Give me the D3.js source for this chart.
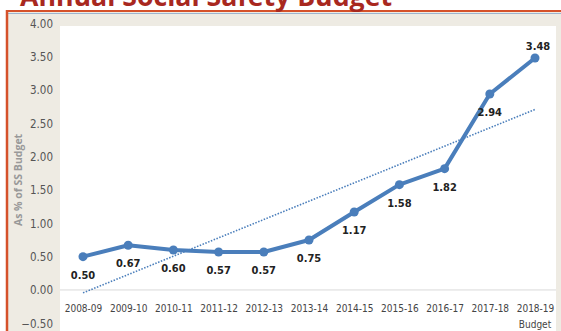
<!DOCTYPE html>
<html>
<head>
<meta charset="utf-8">
<script src="https://cdn.jsdelivr.net/npm/d3@7"></script>
<style>
  body { margin: 0; background: #fff; }
  svg { display: block; }
</style>
</head>
<body>
<svg id="chart" width="561" height="331"></svg>
<script>
const years = ["2008-09", "2009-10", "2010-11", "2011-12", "2012-13", "2013-14",
  "2014-15", "2015-16", "2016-17", "2017-18", "2018-19"];
const shares = [0.50, 0.67, 0.60, 0.57, 0.57, 0.75, 1.17, 1.58, 1.82, 2.94, 3.48];
const yTicks = [-0.5, 0, 0.5, 1, 1.5, 2, 2.5, 3, 3.5, 4];

const svg = d3.select("#chart");
const W = 561, H = 331;

// frame: beige panel with orange / blue rule at the top
svg.append("rect").attr("x", 7).attr("y", 12).attr("width", W - 7).attr("height", H - 12).attr("fill", "#eeebe3");
svg.append("line").attr("x1", 6).attr("x2", W).attr("y1", 11).attr("y2", 11)
  .attr("stroke", "#d5512a").attr("stroke-width", 2);
svg.append("line").attr("x1", 8).attr("x2", W).attr("y1", 13.5).attr("y2", 13.5)
  .attr("stroke", "#9cb4cf").attr("stroke-width", 1.2);
svg.append("line").attr("x1", 7).attr("x2", 7).attr("y1", 10).attr("y2", H)
  .attr("stroke", "#d5512a").attr("stroke-width", 2.5);

// title (cut off at the top, as in the source)
svg.append("text").attr("x", 20).attr("y", 6)
  .attr("font-family", "'Open Sans', 'Liberation Sans', sans-serif")
  .attr("font-weight", "bold").attr("font-size", 26)
  .attr("textLength", 372).attr("lengthAdjust", "spacingAndGlyphs")
  .attr("fill", "#a8281f").text("Annual Social Safety Budget");

const plot = { left: 60, top: 26 };
svg.append("rect").attr("x", plot.left).attr("y", plot.top)
  .attr("width", 556 - plot.left).attr("height", H - plot.top).attr("fill", "#fff");

const x = d3.scalePoint().domain(years).range([83, 535]);
const y = d3.scaleLinear().domain([-0.5, 4]).range([323.3, 23.3]);

// y axis labels
const yAxis = svg.append("g").attr("transform", "translate(53,0)")
  .call(d3.axisLeft(y).tickValues(yTicks).tickFormat(d3.format(".2f")).tickSize(0));
yAxis.select(".domain").remove();
yAxis.selectAll("text").attr("fill", "#555").attr("font-size", 11.5)
  .attr("font-family", "'Liberation Sans Narrow', 'DejaVu Sans Condensed', sans-serif")
  .attr("x", 0).attr("dy", "0.35em");

svg.append("text").attr("transform", `translate(22,${y(1.65)}) rotate(-90)`)
  .attr("text-anchor", "middle").attr("font-size", 10.5).attr("font-weight", "bold")
  .attr("font-family", "'Open Sans', 'DejaVu Sans', sans-serif")
  .attr("fill", "#999").text("As % of SS Budget");

// zero line
svg.append("line").attr("x1", plot.left).attr("x2", 556)
  .attr("y1", y(0)).attr("y2", y(0)).attr("stroke", "#d9d9d9").attr("stroke-width", 1);

// x axis labels
const xAxis = svg.append("g").attr("transform", `translate(0,${y(0)})`)
  .call(d3.axisBottom(x).tickSize(0).tickPadding(15));
xAxis.select(".domain").remove();
xAxis.selectAll("text").attr("fill", "#444").attr("font-size", 10)
  .attr("font-family", "'Liberation Sans Narrow', 'DejaVu Sans Condensed', sans-serif");
svg.append("text").attr("x", x("2018-19")).attr("y", 328).attr("text-anchor", "middle")
  .attr("fill", "#444").attr("font-size", 10)
  .attr("font-family", "'Liberation Sans Narrow', 'DejaVu Sans Condensed', sans-serif")
  .text("Budget");

// linear trendline
const n = shares.length;
const mx = (n + 1) / 2, my = d3.mean(shares);
const slope = d3.sum(shares, (v, i) => (i + 1 - mx) * (v - my)) / d3.sum(shares, (v, i) => (i + 1 - mx) ** 2);
const trend = [1, n].map((k) => ({ year: years[k - 1], v: my + slope * (k - mx) }));
svg.append("path").datum(trend)
  .attr("d", d3.line().x((d) => x(d.year)).y((d) => y(d.v)))
  .attr("fill", "none").attr("stroke", "#4a7ebb").attr("stroke-width", 1.6)
  .attr("stroke-dasharray", "1.5,1.5");

// main series
const data = years.map((yr, i) => ({ year: yr, v: shares[i] }));
svg.append("path").datum(data)
  .attr("d", d3.line().x((d) => x(d.year)).y((d) => y(d.v)))
  .attr("fill", "none").attr("stroke", "#4a7ebb").attr("stroke-width", 4)
  .attr("stroke-linejoin", "round");
svg.selectAll(".dot").data(data).enter().append("circle")
  .attr("cx", (d) => x(d.year)).attr("cy", (d) => y(d.v)).attr("r", 4.5)
  .attr("fill", "#4a7ebb");

svg.selectAll(".lbl").data(data).enter().append("text")
  .attr("x", (d, i) => x(d.year) + (i === n - 1 ? 3 : 0))
  .attr("y", (d, i) => y(d.v) + (i === n - 1 ? -8 : 22))
  .attr("text-anchor", "middle").attr("font-size", 11).attr("font-weight", "bold")
  .attr("font-family", "'Liberation Sans Narrow', 'DejaVu Sans Condensed', sans-serif")
  .attr("fill", "#222").text((d) => d.v.toFixed(2));
</script>
</body>
</html>
